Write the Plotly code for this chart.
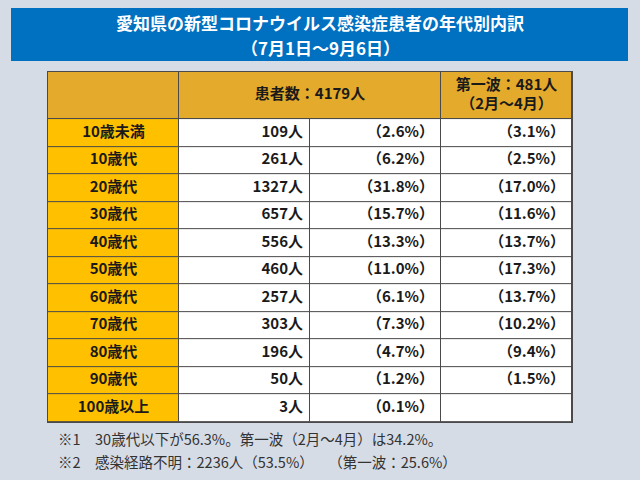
import plotly.graph_objects as go

ages = ["10歳未満", "10歳代", "20歳代", "30歳代", "40歳代", "50歳代",
        "60歳代", "70歳代", "80歳代", "90歳代", "100歳以上"]
counts = [109, 261, 1327, 657, 556, 460, 257, 303, 196, 50, 3]
pcts = [2.6, 6.2, 31.8, 15.7, 13.3, 11.0, 6.1, 7.3, 4.7, 1.2, 0.1]
wave1_pcts = [3.1, 2.5, 17.0, 11.6, 13.7, 17.3, 13.7, 10.2, 9.4, 1.5, None]

title_line1 = "愛知県の新型コロナウイルス感染症患者の年代別内訳"
title_line2 = "（7月1日～9月6日）"
header_total = "患者数：4179人"
header_wave1 = "第一波：481人<br>（2月～4月）"
note1 = "※1　30歳代以下が56.3%。第一波（2月～4月）は34.2%。"
note2 = "※2　感染経路不明：2236人（53.5%）　　（第一波：25.6%）"

BG = "#D6DCE5"
BLUE = "#0070C0"
HEAD = "#E3AA2C"
LABEL = "#FFC000"
LINE = "#4A4A4A"
TXT = "#1A1A1A"
FONT = "Noto Sans CJK JP"

W, H = 640, 480
tx0, tx1, ty0, ty1 = 48, 572, 72, 422
n = len(ages)
hdr = 47 / 27.5                       # header height in row units
body_edges = [hdr + i for i in range(n + 1)]
row_mid = [hdr + i + 0.5 for i in range(n)]
pad = 7 / ((tx1 - tx0) / 4)           # right padding in column units

fig = go.Figure()

# header cells (merged middle cell spans two columns)
fig.add_trace(go.Heatmap(
    z=[[0, 0, 0]], x=[0, 1, 3, 4], y=[0, hdr],
    colorscale=[[0, HEAD], [1, HEAD]], zmin=0, zmax=1,
    xgap=1, ygap=1, showscale=False, hoverinfo="skip"))

# body cells
fig.add_trace(go.Heatmap(
    z=[[0, 1, 1, 1] for _ in ages], x=[0, 1, 2, 3, 4], y=body_edges,
    colorscale=[[0, LABEL], [0.5, LABEL], [0.5, "white"], [1, "white"]],
    zmin=0, zmax=1, xgap=1, ygap=1, showscale=False, hoverinfo="skip"))

cell_font = dict(family=FONT, size=15, color=TXT)

fig.add_trace(go.Scatter(
    x=[2, 3.5], y=[hdr / 2, hdr / 2], mode="text",
    text=[f"<b>{header_total}</b>", f"<b>{header_wave1}</b>"],
    textposition="middle center", textfont=cell_font, hoverinfo="skip"))

fig.add_trace(go.Scatter(
    x=[0.5] * n, y=row_mid, mode="text",
    text=[f"<b>{a}</b>" for a in ages],
    textposition="middle center", textfont=cell_font, hoverinfo="skip"))

fig.add_trace(go.Scatter(
    x=[2 - pad] * n, y=row_mid, mode="text",
    text=[f"<b>{c}人</b>" for c in counts],
    textposition="middle left", textfont=cell_font, hoverinfo="skip"))

fig.add_trace(go.Scatter(
    x=[3 - pad] * n, y=row_mid, mode="text",
    text=[f"<b>（{p:.1f}%）</b>" for p in pcts],
    textposition="middle left", textfont=cell_font, hoverinfo="skip"))

fig.add_trace(go.Scatter(
    x=[4 - pad] * n, y=row_mid, mode="text",
    text=[f"<b>（{p:.1f}%）</b>" if p is not None else "" for p in wave1_pcts],
    textposition="middle left", textfont=cell_font, hoverinfo="skip"))

axis_common = dict(showgrid=False, zeroline=False, showticklabels=False,
                   ticks="", showline=True, linecolor=LINE, linewidth=1,
                   mirror=True, fixedrange=True)

fig.update_layout(
    width=W, height=H,
    margin=dict(l=0, r=0, t=0, b=0),
    paper_bgcolor=BG, plot_bgcolor=LINE,
    showlegend=False,
    xaxis=dict(domain=[tx0 / W, tx1 / W], range=[0, 4], **axis_common),
    yaxis=dict(domain=[1 - ty1 / H, 1 - ty0 / H], range=[body_edges[-1], 0],
               **axis_common),
    shapes=[dict(type="rect", xref="paper", yref="paper",
                 x0=11 / W, x1=628 / W, y0=1 - 61 / H, y1=1 - 8 / H,
                 fillcolor=BLUE, line=dict(width=0), layer="below")],
    annotations=[
        dict(text=f"<b>{title_line1}</b>", x=0.5, y=1 - 22.5 / H,
             xref="paper", yref="paper", xanchor="center", yanchor="middle",
             showarrow=False,
             font=dict(family=FONT, size=17, color="white")),
        dict(text=f"<b>{title_line2}</b>", x=0.5, y=1 - 48 / H,
             xref="paper", yref="paper", xanchor="center", yanchor="middle",
             showarrow=False,
             font=dict(family=FONT, size=17, color="white")),
        dict(text=note1, x=56 / W, y=1 - 438 / H, xref="paper", yref="paper",
             xanchor="left", yanchor="middle", showarrow=False,
             font=dict(family=FONT, size=14.5, color="#333333")),
        dict(text=note2, x=56 / W, y=1 - 461 / H, xref="paper", yref="paper",
             xanchor="left", yanchor="middle", showarrow=False,
             font=dict(family=FONT, size=14.5, color="#333333")),
    ],
)

fig.write_html("out.html",
               config={"displayModeBar": False, "staticPlot": True},
               post_script="document.body.style.margin='0';"
                           "document.body.style.overflow='hidden';")
